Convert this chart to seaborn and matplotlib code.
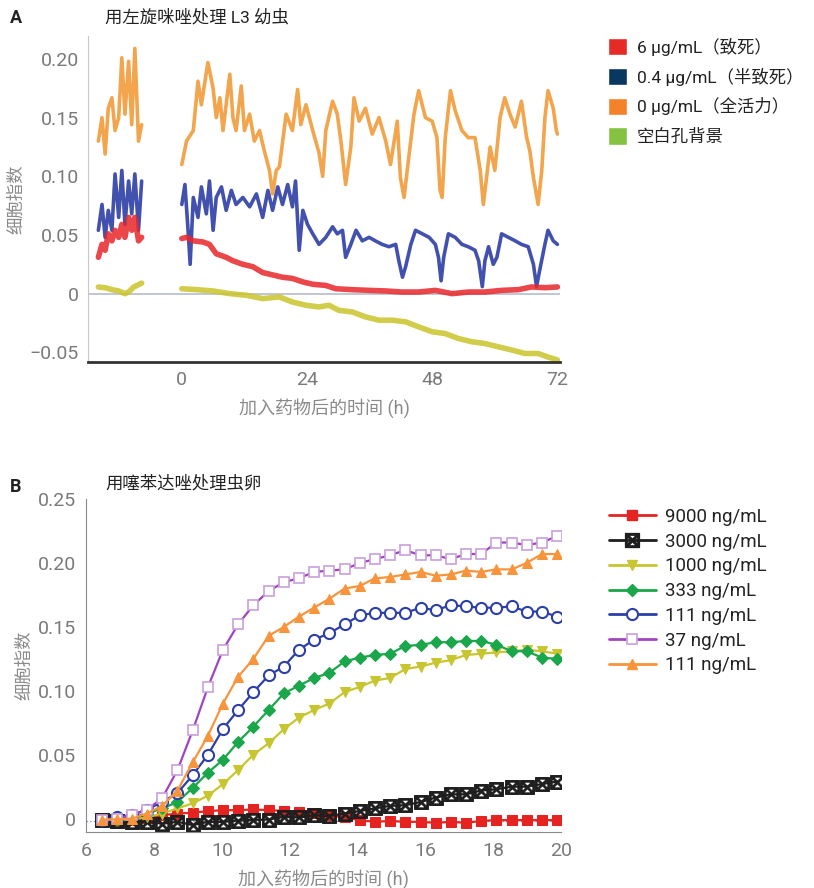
import numpy as np
import pandas as pd
import matplotlib
matplotlib.use("Agg")
import matplotlib.pyplot as plt
import seaborn as sns
from matplotlib.patches import Patch
from matplotlib.lines import Line2D

sns.set_style("white")
plt.rcParams['font.family'] = ['Roboto', 'Noto Sans CJK SC', 'DejaVu Sans']
plt.rcParams['axes.unicode_minus'] = True

# ================= Panel A data (levamisole, L3 larvae) =================
# pre-treatment segment
a_pre_t = [-16.0, -15.3, -14.7, -14.1, -13.4, -12.8, -12.1, -11.5, -10.9, -10.2, -9.6, -9.0, -8.3, -7.7]
a_pre_orange = [0.130, 0.150, 0.119, 0.158, 0.167, 0.139, 0.150, 0.201, 0.153, 0.198, 0.144, 0.209, 0.130, 0.144]
a_pre_blue = [0.054, 0.076, 0.048, 0.071, 0.054, 0.102, 0.065, 0.105, 0.059, 0.096, 0.068, 0.102, 0.054, 0.096]
a_pre_red = [0.031, 0.042, 0.037, 0.051, 0.045, 0.054, 0.048, 0.059, 0.048, 0.065, 0.054, 0.065, 0.045, 0.048]
a_pre_bg_t = [-16.0, -14.6, -13.4, -12.1, -10.9, -10.2, -9.2, -7.7]
a_pre_bg = [0.0057, 0.0050, 0.0034, 0.0023, 0.0, 0.0014, 0.0057, 0.0090]

# after adding drug
a_orange_t = [0.0, 0.9, 2.2, 3.1, 3.75, 5.0, 6.0, 6.6, 7.3, 7.9, 9.2, 9.8, 10.4, 11.4, 12.0, 13.0,
              13.9, 14.9, 15.8, 16.8, 17.4, 18.1, 18.7, 20.0, 21.2, 22.2, 22.8, 23.8, 25.1, 26.3,
              27.0, 27.6, 28.9, 29.8, 30.5, 31.4, 32.4, 33.0, 34.0, 35.2, 36.5, 37.8, 39.1, 40.0,
              41.3, 41.9, 42.6, 43.5, 44.5, 45.4, 46.7, 48.0, 48.9, 49.5, 49.9, 50.5, 51.5, 52.4,
              53.7, 54.9, 56.2, 57.2, 57.8, 58.5, 59.1, 60.0, 61.0, 61.9, 62.9, 63.9, 65.1, 66.1,
              66.7, 67.4, 68.3, 69.0, 69.6, 70.2, 71.2, 71.8, 72.0]
a_orange = [0.110, 0.130, 0.139, 0.181, 0.161, 0.197, 0.175, 0.150, 0.167, 0.139, 0.187, 0.150,
            0.139, 0.177, 0.139, 0.153, 0.130, 0.139, 0.122, 0.105, 0.085, 0.105, 0.108, 0.153,
            0.139, 0.174, 0.144, 0.161, 0.139, 0.120, 0.100, 0.139, 0.164, 0.153, 0.130, 0.093,
            0.125, 0.167, 0.147, 0.158, 0.136, 0.150, 0.130, 0.110, 0.147, 0.099, 0.082, 0.116,
            0.153, 0.173, 0.150, 0.147, 0.133, 0.088, 0.082, 0.133, 0.173, 0.156, 0.139, 0.133,
            0.133, 0.105, 0.076, 0.102, 0.125, 0.105, 0.150, 0.167, 0.153, 0.142, 0.164, 0.133,
            0.122, 0.099, 0.076, 0.105, 0.150, 0.173, 0.158, 0.139, 0.136]

a_blue_t = [0.0, 0.6, 1.2, 1.6, 2.2, 3.1, 3.75, 4.7, 5.3, 6.0, 6.6, 7.6, 8.5, 9.5, 10.4, 11.7, 13.0,
            14.3, 15.5, 16.5, 17.4, 18.4, 19.3, 20.3, 21.2, 21.8, 22.5, 23.2, 24.1, 25.1, 26.3,
            27.6, 28.9, 29.8, 30.8, 31.4, 32.4, 33.4, 34.6, 35.9, 37.1, 38.4, 39.7, 41.0, 41.6,
            42.3, 42.9, 43.9, 44.8, 46.1, 47.4, 48.6, 49.2, 49.7, 50.2, 51.1, 52.4, 53.7, 54.9,
            56.2, 56.9, 57.6, 58.1, 58.8, 59.7, 60.4, 61.3, 62.6, 63.9, 65.1, 66.4, 67.4, 68.0,
            68.6, 69.6, 70.2, 71.2, 72.0]
a_blue = [0.076, 0.093, 0.054, 0.025, 0.082, 0.065, 0.091, 0.068, 0.096, 0.054, 0.082, 0.091,
          0.071, 0.088, 0.076, 0.082, 0.074, 0.085, 0.065, 0.088, 0.071, 0.091, 0.076, 0.093,
          0.074, 0.096, 0.037, 0.071, 0.059, 0.051, 0.042, 0.048, 0.057, 0.051, 0.054, 0.031,
          0.042, 0.054, 0.045, 0.048, 0.045, 0.042, 0.040, 0.042, 0.028, 0.014, 0.023, 0.042,
          0.054, 0.051, 0.048, 0.042, 0.031, 0.011, 0.031, 0.051, 0.048, 0.042, 0.040, 0.037,
          0.028, 0.006, 0.028, 0.040, 0.025, 0.031, 0.051, 0.048, 0.045, 0.042, 0.040, 0.025,
          0.006, 0.020, 0.042, 0.054, 0.045, 0.042]

a_red_t = [0.0, 0.95, 2.2, 4.1, 5.3, 6.6, 8.5, 9.8, 11.7, 13.6, 15.5, 17.4, 19.3, 21.2, 23.2, 25.1,
           27.6, 29.5, 32.7, 35.9, 39.1, 42.2, 45.4, 48.6, 51.8, 55.0, 58.1, 61.3, 64.5, 67.0,
           69.6, 72.0]
a_red = [0.047, 0.048, 0.045, 0.044, 0.042, 0.034, 0.031, 0.028, 0.025, 0.023, 0.018, 0.016,
         0.014, 0.013, 0.010, 0.008, 0.007, 0.0042, 0.0034, 0.0028, 0.0023, 0.0014, 0.0014,
         0.0028, 0.0, 0.0014, 0.0014, 0.0028, 0.0034, 0.0057, 0.0051, 0.0057]

a_bg_t = [0.0, 2.9, 6.0, 9.2, 12.4, 15.5, 18.7, 21.2, 23.8, 26.3, 28.2, 30.1, 32.7, 35.2, 37.8,
          40.3, 42.9, 45.4, 48.0, 50.5, 53.0, 55.6, 58.1, 60.7, 63.2, 65.8, 68.3, 70.2, 72.0]
a_bg = [0.0042, 0.0034, 0.0023, 0.0, -0.0014, -0.0042, -0.0028, -0.0071, -0.0099, -0.0113,
        -0.0099, -0.0142, -0.0156, -0.0198, -0.0226, -0.0226, -0.0240, -0.0283, -0.0325,
        -0.0340, -0.0382, -0.0410, -0.0425, -0.0453, -0.0480, -0.0510, -0.0510, -0.0540, -0.0565]

a_labels = ['6 µg/mL（致死）', '0.4 µg/mL（半致死）', '0 µg/mL（全活力）', '空白孔背景']

# ================= Panel B data (thiabendazole, eggs) =================
b_t = [6.45, 6.90, 7.35, 7.79, 8.24, 8.69, 9.14, 9.59, 10.03, 10.48, 10.93, 11.38, 11.83, 12.27,
       12.72, 13.17, 13.62, 14.07, 14.51, 14.96, 15.41, 15.86, 16.31, 16.75, 17.20, 17.65, 18.10,
       18.55, 18.99, 19.44, 19.89]
b_9000 = [-0.0015, -0.0015, -0.001, 0.0005, 0.0027, 0.004, 0.0046, 0.0059, 0.0066, 0.0066, 0.0072,
          0.0066, 0.0061, 0.0053, 0.0046, 0.0027, 0.0009, -0.0012, -0.0025, -0.0018, -0.0025,
          -0.0025, -0.0033, -0.0025, -0.0033, -0.0018, -0.0012, -0.0012, -0.0012, -0.0012, -0.0012]
b_3000 = [-0.001, -0.0015, -0.0025, -0.0025, -0.004, -0.0025, -0.005, -0.0025, -0.0025, -0.0015,
          -0.001, -0.0007, 0.0014, 0.0009, 0.0027, 0.002, 0.004, 0.006, 0.008, 0.010, 0.0105, 0.013,
          0.0165, 0.019, 0.019, 0.022, 0.023, 0.025, 0.025, 0.027, 0.029]
b_1000 = [-0.001, -0.001, -0.0007, 0.001, 0.004, 0.008, 0.012, 0.018, 0.027, 0.038, 0.050, 0.059,
          0.070, 0.079, 0.085, 0.090, 0.099, 0.103, 0.108, 0.110, 0.117, 0.119, 0.122, 0.124,
          0.128, 0.129, 0.130, 0.131, 0.132, 0.131, 0.129]
b_333 = [-0.001, -0.0007, 0.001, 0.004, 0.008, 0.013, 0.024, 0.036, 0.046, 0.060, 0.072, 0.085,
         0.098, 0.104, 0.110, 0.114, 0.123, 0.126, 0.128, 0.129, 0.135, 0.136, 0.138, 0.138,
         0.139, 0.139, 0.136, 0.131, 0.131, 0.126, 0.125]
b_111 = [-0.001, 0.001, 0.003, 0.007, 0.013, 0.020, 0.034, 0.050, 0.070, 0.085, 0.099, 0.112,
         0.119, 0.132, 0.140, 0.145, 0.152, 0.159, 0.161, 0.161, 0.161, 0.165, 0.163, 0.167,
         0.166, 0.165, 0.165, 0.166, 0.162, 0.162, 0.158]
b_37 = [-0.001, 0.0, 0.003, 0.007, 0.016, 0.038, 0.069, 0.103, 0.132, 0.152, 0.167, 0.178, 0.185,
        0.188, 0.193, 0.194, 0.195, 0.200, 0.203, 0.206, 0.210, 0.206, 0.206, 0.203, 0.207,
        0.207, 0.216, 0.216, 0.214, 0.216, 0.221]
b_111b = [-0.001, -0.0005, 0.0, 0.004, 0.010, 0.022, 0.044, 0.065, 0.090, 0.111, 0.125, 0.143,
          0.150, 0.158, 0.165, 0.172, 0.180, 0.182, 0.188, 0.189, 0.191, 0.193, 0.190, 0.191,
          0.194, 0.193, 0.195, 0.195, 0.200, 0.207, 0.207]
b_labels = ['9000 ng/mL', '3000 ng/mL', '1000 ng/mL', '333 ng/mL', '111 ng/mL', '37 ng/mL', '111 ng/mL']

# ---------------- figure ----------------
fig = plt.figure(figsize=(8.14, 8.88), dpi=100)
axA = fig.add_axes([0.108, 0.592, 0.58, 0.368])
axB = fig.add_axes([0.106, 0.063, 0.583, 0.375])

tick_col = '#7a7a7a'
lab_col = '#8a8a8a'

# ====== Panel A ======
c_red, c_blue, c_orange, c_bg = '#e8262a', '#2233a0', '#f0962e', '#c9c52a'
axA.axhline(0, color='#b5bccb', lw=1.2, zorder=1)
for tt, yy, cc in [(a_pre_t, a_pre_orange, c_orange), (a_orange_t, a_orange, c_orange),
                   (a_pre_t, a_pre_blue, c_blue), (a_blue_t, a_blue, c_blue),
                   (a_pre_t, a_pre_red, c_red), (a_red_t, a_red, c_red),
                   (a_pre_bg_t, a_pre_bg, c_bg), (a_bg_t, a_bg, c_bg)]:
    lw = 4.0 if cc in (c_red, c_bg) else 2.6
    sns.lineplot(x=tt, y=yy, color=cc, lw=lw, ax=axA, sort=False, alpha=0.85)

axA.set_xlim(-18, 72.5)
axA.set_ylim(-0.0585, 0.22)
axA.set_xticks([0, 24, 48, 72])
axA.set_yticks([-0.05, 0, 0.05, 0.10, 0.15, 0.20])
axA.set_yticklabels(['−0.05', '0', '0.05', '0.10', '0.15', '0.20'])
axA.set_xlabel('加入药物后的时间 (h)', fontsize=13, color=lab_col, labelpad=6)
axA.set_ylabel('细胞指数', fontsize=12.5, color=lab_col, labelpad=4)
for s in ['top', 'right']:
    axA.spines[s].set_visible(False)
axA.spines['left'].set_color('#c8c8c8')
axA.spines['bottom'].set_color('#333333')
axA.spines['bottom'].set_linewidth(2)
axA.tick_params(axis='both', labelsize=14, colors=tick_col, length=3, direction='out')
axA.tick_params(axis='y', color='#999999')
axA.tick_params(axis='x', color='#555555')
fig.text(10 / 814, 1 - 18 / 888, 'A', fontsize=13, fontweight='bold', va='center', color='#222')
fig.text(105 / 814, 1 - 17 / 888, '用左旋咪唑处理 L3 幼虫', fontsize=12.5, va='center', color='#222')

legA = [Patch(facecolor='#e62a26'), Patch(facecolor='#083860'),
        Patch(facecolor='#f4822a'), Patch(facecolor='#86c241')]
fig.legend(legA, a_labels, loc='upper left', bbox_to_anchor=(592 / 814, 1 - 22 / 888),
           frameon=False, fontsize=12.5, handlelength=1.1, handleheight=1.15,
           labelspacing=0.68, handletextpad=0.6, labelcolor='#222')

# ====== Panel B ======
axB.axhline(-0.0015, color='#8a93a5', lw=1, ls=':', zorder=1)
b_series = [b_9000, b_3000, b_1000, b_333, b_111, b_37, b_111b]
b_styles = [
    dict(color='#e52421', marker='s', ms=7, mfc='#e52421', mec='#e52421'),
    dict(color='#1e1e1e', marker=r'$\boxtimes$', ms=10, mfc='#1e1e1e', mec='#1e1e1e'),
    dict(color='#c7c530', marker='v', ms=7, mfc='#c7c530', mec='#c7c530'),
    dict(color='#1aa64a', marker='D', ms=6, mfc='#1aa64a', mec='#1aa64a'),
    dict(color='#2d3fa8', marker='o', ms=8, mfc='white', mec='#2d3fa8', mew=1.5),
    dict(color='#a044bf', marker='s', ms=7.5, mfc='white', mec='#c9a0dc', mew=1.2),
    dict(color='#f7943c', marker='^', ms=7.5, mfc='#f7943c', mec='#f7943c'),
]
handles = []
for yy, st in zip(b_series, b_styles):
    sns.lineplot(x=b_t, y=yy, ax=axB, lw=1.6, sort=False, **st)
    handles.append(Line2D([], [], lw=2, **st))

axB.set_xlim(6, 20)
axB.set_ylim(-0.0105, 0.25)
axB.set_xticks(range(6, 21, 2))
axB.set_yticks([0, 0.05, 0.10, 0.15, 0.20, 0.25])
axB.set_yticklabels(['0', '0.05', '0.10', '0.15', '0.20', '0.25'])
axB.set_xlabel('加入药物后的时间 (h)', fontsize=13, color=lab_col, labelpad=6)
axB.set_ylabel('细胞指数', fontsize=12.5, color=lab_col, labelpad=4)
for s in ['top', 'right']:
    axB.spines[s].set_visible(False)
for s in ['left', 'bottom']:
    axB.spines[s].set_color('#8a8a8a')
axB.tick_params(axis='both', labelsize=14, colors=tick_col, length=4, direction='out')
axB.tick_params(axis='both', color='#8a8a8a')
fig.text(10 / 814, 1 - 487 / 888, 'B', fontsize=13, fontweight='bold', va='center', color='#222')
fig.text(105 / 814, 1 - 483 / 888, '用噻苯达唑处理虫卵', fontsize=12.5, va='center', color='#222')

fig.legend(handles, b_labels, loc='upper left', bbox_to_anchor=(592 / 814, 1 - 491 / 888),
           frameon=False, fontsize=13.5, handlelength=2.5, labelspacing=0.36,
           handletextpad=0.5, labelcolor='#222')

fig.savefig('out.png', dpi=100)
